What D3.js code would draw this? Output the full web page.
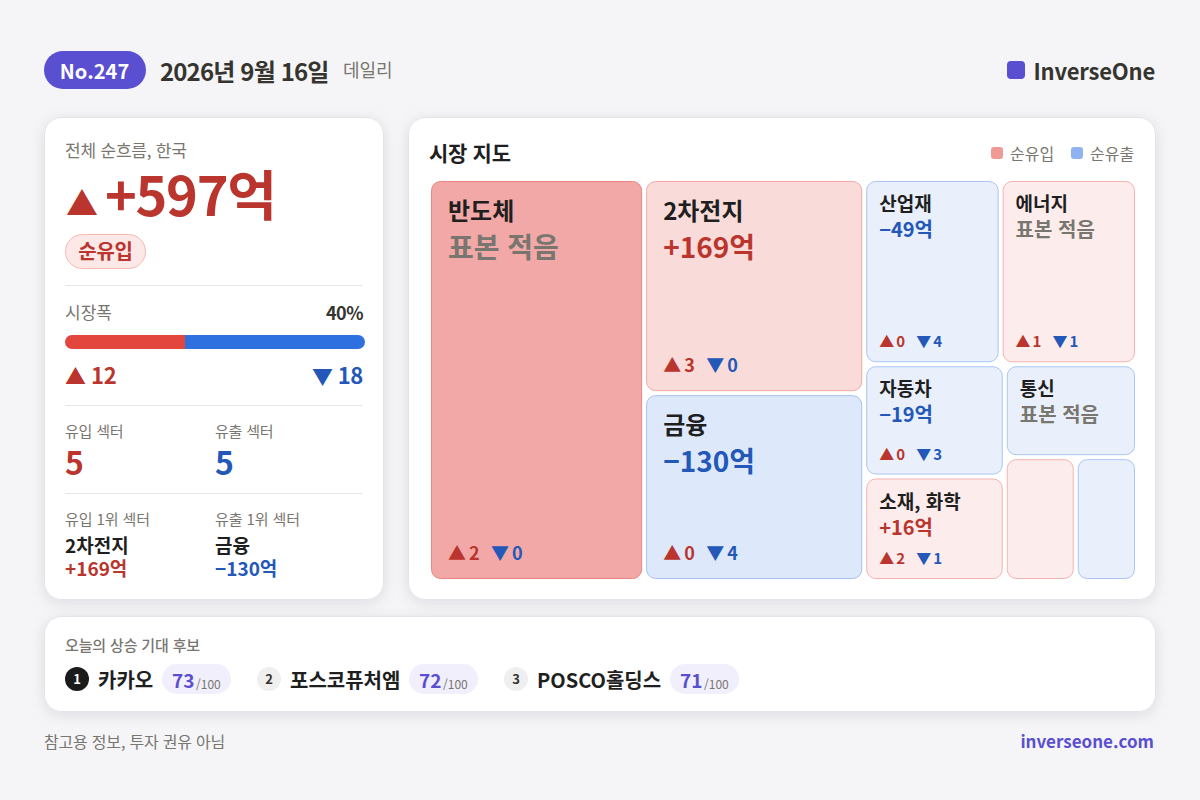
<!DOCTYPE html>
<html lang="ko"><head><meta charset="utf-8">
<script src="https://cdnjs.cloudflare.com/ajax/libs/d3/7.8.5/d3.min.js"></script>
<style>
html,body{margin:0;padding:0;background:#f5f5f8;width:1200px;height:800px;overflow:hidden}
svg{display:block}
text{font-family:"Noto Sans CJK KR","Noto Sans",sans-serif}
</style></head><body>
<script>
// ---- data ----
const issueNo = "No.247", issueDate = "2026년 9월 16일", issueType = "데일리", brand = "InverseOne", site = "inverseone.com";
const netLabel = "전체 순흐름, 한국", netValue = "+597억", netState = "순유입";
const breadthUp = 12, breadthDown = 18;
const sectorCounts = [["유입 섹터", 5], ["유출 섹터", 5]];
const topSectors = [["유입 1위 섹터", "2차전지", "+169억"], ["유출 1위 섹터", "금융", "−130억"]];
const sectorNames = ["반도체","2차전지","금융","산업재","에너지","자동차","소재, 화학","통신","",""];
const sectorSizes = [866,472,414,253,253,158,147,123,88,76];
const sectorFlows = [null,169,-130,-49,null,-19,16,null,null,null];
const sectorDirs  = [1,1,-1,-1,1,-1,1,-1,1,-1];
const sectorShades= [2,1,1,0,0,0,0,0,0,0];
const sectorUps   = [2,3,0,0,1,0,2,null,null,null];
const sectorDowns = [0,0,4,4,1,3,1,null,null,null];
const pickTitle = "오늘의 상승 기대 후보";
const pickNames = ["카카오","포스코퓨처엠","POSCO홀딩스"];
const pickScores = [73,72,71];
const legendLabels = ["순유입","순유출"];
const footNote = "참고용 정보, 투자 권유 아님";

// ---- palette ----
const RED="#b9352e", BLUE="#2358b9", PURPLE="#5a4ed1", INK="#1f1f1f", DARK="#35342f", GRAY="#78766f", LINE="#e8e8e8";
const fills = {"1":["#fdecec","#f6b3af"],"-1":["#e9f0fc","#a9c5f3"]};
const strong = {"1,1":["#f9dcd9","#f4a9a5"],"1,2":["#f1a8a6","#e98583"],"-1,1":["#dde8fa","#a5c1f0"]};

const svg = d3.select("body").append("svg").attr("width",1200).attr("height",800);
const defs = svg.append("defs");
const sh = defs.append("filter").attr("id","sh").attr("x","-10%").attr("y","-10%").attr("width","120%").attr("height","125%");
sh.append("feDropShadow").attr("dx",0).attr("dy",3).attr("stdDeviation",7).attr("flood-color","#20203a").attr("flood-opacity",0.1);

function T(g,x,y,s,size,weight,color,anchor,ls){
  return g.append("text").attr("x",x).attr("y",y).text(s).attr("font-size",size).attr("font-weight",weight)
    .attr("fill",color).attr("text-anchor",anchor||"start").attr("letter-spacing",ls||0);
}
function card(x,y,w,h){
  svg.append("rect").attr("x",x+.5).attr("y",y+.5).attr("width",w-1).attr("height",h-1).attr("rx",17)
    .attr("fill","#fff").attr("stroke","#e3e3e9").attr("filter","url(#sh)");
}
function hline(y){ svg.append("line").attr("x1",65).attr("x2",363).attr("y1",y+.5).attr("y2",y+.5).attr("stroke",LINE); }

// ---- header ----
svg.append("rect").attr("x",44).attr("y",51).attr("width",102).attr("height",38).attr("rx",19).attr("fill",PURPLE);
T(svg,94.5,79,issueNo,20,700,"#fff","middle");
T(svg,160,81,issueDate,24,700,DARK,"start",-0.85);
T(svg,343,77,issueType,18,400,GRAY);
svg.append("rect").attr("x",1007).attr("y",61).attr("width",18).attr("height",18).attr("rx",4).attr("fill",PURPLE);
T(svg,1155,80,brand,22,700,DARK,"end",-0.2);

// ---- left card ----
card(44,117,340,483);
T(svg,65,157,netLabel,17,400,GRAY,"start",-0.2);
T(svg,66,215,"▲",32,700,RED);
T(svg,105,216,netValue,54,700,RED,"start",-1.3);
svg.append("rect").attr("x",65.5).attr("y",234.5).attr("width",80).attr("height",34).attr("rx",17).attr("fill","#fce8e6").attr("stroke","#f6b8b3");
T(svg,105.5,259,netState,20,700,RED,"middle",-0.3);
hline(285);
T(svg,65,319,"시장폭",17,400,GRAY);
const pct = breadthUp/(breadthUp+breadthDown);
T(svg,363,320,d3.format(".0%")(pct),18,700,DARK,"end",-0.5);
// breadth bar
const barX = d3.scaleLinear().domain([0,breadthUp+breadthDown]).range([65,365]);
defs.append("clipPath").attr("id","bc").append("rect").attr("x",65).attr("y",335).attr("width",300).attr("height",14).attr("rx",7);
const barG = svg.append("g").attr("clip-path","url(#bc)");
barG.append("rect").attr("x",barX(0)).attr("y",335).attr("width",barX(breadthUp)-barX(0)).attr("height",14).attr("fill","#e2463c");
barG.append("rect").attr("x",barX(breadthUp)).attr("y",335).attr("width",barX(breadthUp+breadthDown)-barX(breadthUp)).attr("height",14).attr("fill","#2f70e0");
T(svg,65,384,"▲",21,700,RED);
T(svg,91,384,breadthUp,22,700,RED,"start",-0.3);
T(svg,363,384,breadthDown,22,700,BLUE,"end",-0.3);
T(svg,312,384,"▼",21,700,BLUE);
hline(405);
const colX=[65,215];
sectorCounts.forEach((d,i)=>{
  T(svg,colX[i],437,d[0],15,400,GRAY,"start",-0.2);
  T(svg,colX[i],475,d[1],32,700,i?BLUE:RED);
});
hline(493);
topSectors.forEach((d,i)=>{
  T(svg,colX[i],525,d[0],15,400,GRAY,"start",-0.1);
  T(svg,colX[i],553,d[1],19,700,INK);
  T(svg,colX[i],576,d[2],19,700,i?BLUE:RED);
});

// ---- right card ----
card(408,117,748,483);
T(svg,429,161,"시장 지도",21,700,INK,"start",-0.3);
[[991,1010,"#f09a96"],[1071,1090,"#8fb3f0"]].forEach((d,i)=>{
  svg.append("rect").attr("x",d[0]).attr("y",147).attr("width",12).attr("height",12).attr("rx",3).attr("fill",d[2]);
  T(svg,d[1],160,legendLabels[i],16,400,GRAY);
});

// treemap: nested slice/dice tree over the sector indices
const tree = [0,[1,2],[[3,4],[[5,6],[7,[8,9]]]]];
function toNode(t){ return Array.isArray(t) ? {children:t.map(toNode)} : {i:t, value:sectorSizes[t]}; }
const root = d3.hierarchy(toNode(tree)).sum(d=>d.value||0);
const tile = (n,x0,y0,x1,y1)=> (n.depth%2===0 ? d3.treemapDice : d3.treemapSlice)(n,x0,y0,x1,y1);
d3.treemap().size([708,402]).round(false).tile(tile)(root);
const GAP=2, OX=429, OY=179;
root.leaves().forEach(n=>{
  const i=n.data.i, x=OX+n.x0+GAP, y=OY+n.y0+GAP, w=n.x1-n.x0-2*GAP, h=n.y1-n.y0-2*GAP;
  const dir=sectorDirs[i], shade=sectorShades[i];
  const c = shade ? strong[dir+","+shade] : fills[dir];
  svg.append("rect").attr("x",x+.5).attr("y",y+.5).attr("width",w-1).attr("height",h-1).attr("rx",9).attr("fill",c[0]).attr("stroke",c[1]);
  if(!sectorNames[i]) return;
  const big = w>200, px = big?17:13;
  T(svg,x+px,y+(big?39:30),sectorNames[i],big?24:19,700,INK);
  const f=sectorFlows[i];
  const label = f==null ? "표본 적음" : (f>0?"+":"−")+Math.abs(f)+"억";
  T(svg,x+px,y+(big?77:56),label,big?28:20,700,f==null?GRAY:(f>0?RED:BLUE));
  if(sectorUps[i]!=null){
    const by=y+h-(big?19:15), fs=big?18:15, dx=big?[0,21,43,64]:[0,17,37,54];
    T(svg,x+px,by,"▲",fs,700,RED);
    T(svg,x+px+dx[1],by,sectorUps[i],fs,700,RED);
    T(svg,x+px+dx[2],by,"▼",fs,700,BLUE);
    T(svg,x+px+dx[3],by,sectorDowns[i],fs,700,BLUE);
  }
});

// ---- picks ----
card(44,616,1112,96);
T(svg,65,651,pickTitle,15,500,GRAY,"start",-0.15);
let cx=65;
pickNames.forEach((name,i)=>{
  svg.append("circle").attr("cx",cx+12).attr("cy",679).attr("r",12).attr("fill",i?"#efefef":"#1b1b1b");
  T(svg,cx+12,684,i+1,13,700,i?DARK:"#fff","middle");
  const nm=T(svg,cx+33,688,name,20,700,INK);
  const nx=Math.floor(cx+33+nm.node().getComputedTextLength()+9);
  svg.append("rect").attr("x",nx).attr("y",664).attr("width",69).attr("height",30).attr("rx",15).attr("fill","#f1effc");
  T(svg,nx+10,688,pickScores[i],19,700,PURPLE);
  T(svg,nx+34,689,"/100",12,400,GRAY);
  cx=nx+69+26;
});

// ---- footer ----
T(svg,44,748,footNote,16,400,GRAY,"start",-0.2);
T(svg,1154,748,site,17,700,PURPLE,"end");
</script>
</body></html>
